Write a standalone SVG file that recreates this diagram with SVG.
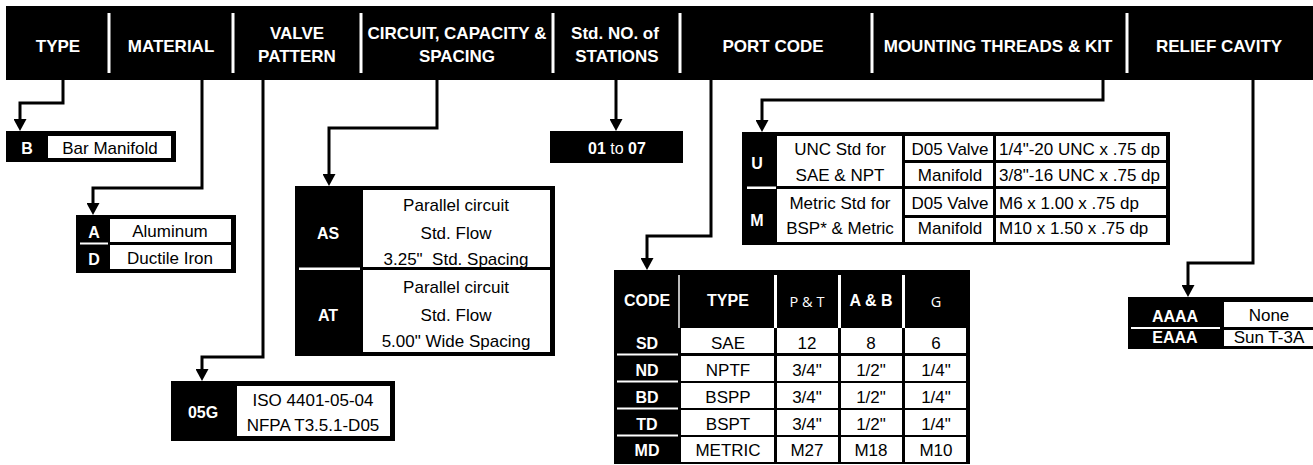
<svg xmlns="http://www.w3.org/2000/svg" width="1313" height="465" viewBox="0 0 1313 465">
<style>
.bk{fill:#000}
.wh{fill:#fff}
.hd{font-family:"Liberation Sans",Arial,sans-serif;font-weight:bold;font-size:17px;fill:#fff;text-anchor:middle}
.k{font-family:"Liberation Sans",Arial,sans-serif;font-weight:bold;font-size:16px;fill:#fff;text-anchor:middle}
.t{font-family:"Liberation Sans",Arial,sans-serif;font-size:17px;fill:#000;text-anchor:middle}
.tl{text-anchor:start}
.sm{font-family:"Open Sans","Liberation Sans",sans-serif;font-size:14.5px;fill:#fff;text-anchor:middle}
.conn{fill:none;stroke:#000;stroke-width:3}
</style>
<defs>
<marker id="arr" viewBox="0 0 12 13" refX="6" refY="6.5" markerWidth="12" markerHeight="13" markerUnits="userSpaceOnUse" orient="auto">
<path d="M0,0 L12,6.5 L0,13 z" fill="#000"/>
</marker>
</defs>
<rect width="1313" height="465" fill="#fff"/>

<g id="header">
<rect class="bk" x="6" y="6" width="1307" height="74"/>
<rect class="wh" x="107.5" y="13" width="3" height="60"/>
<rect class="wh" x="231.5" y="13" width="3" height="60"/>
<rect class="wh" x="359.5" y="13" width="3" height="60"/>
<rect class="wh" x="551.5" y="13" width="3" height="60"/>
<rect class="wh" x="678.5" y="13" width="3" height="60"/>
<rect class="wh" x="870.5" y="13" width="3" height="60"/>
<rect class="wh" x="1125.5" y="13" width="3" height="60"/>
<text class="hd" x="58" y="51.5">TYPE</text>
<text class="hd" x="171" y="51.5">MATERIAL</text>
<text class="hd" x="297" y="38.5">VALVE</text>
<text class="hd" x="297" y="62">PATTERN</text>
<text class="hd" x="457" y="38.5">CIRCUIT, CAPACITY &amp;</text>
<text class="hd" x="457" y="62">SPACING</text>
<text class="hd" x="615" y="38.5">Std. NO. of</text>
<text class="hd" x="617" y="62">STATIONS</text>
<text class="hd" x="773" y="51.5">PORT CODE</text>
<text class="hd" x="998" y="51.5">MOUNTING THREADS &amp; KIT</text>
<text class="hd" x="1219" y="51.5">RELIEF CAVITY</text>
</g>

<g id="connectors">
<path class="conn" d="M63,80 V103 H20 V125" marker-end="url(#arr)"/>
<path class="conn" d="M202,80 V188 H93 V209" marker-end="url(#arr)"/>
<path class="conn" d="M263,80 V357 H202 V375" marker-end="url(#arr)"/>
<path class="conn" d="M437,80 V128 H329 V180" marker-end="url(#arr)"/>
<path class="conn" d="M616,80 V125" marker-end="url(#arr)"/>
<path class="conn" d="M711,80 V236 H647 V264" marker-end="url(#arr)"/>
<path class="conn" d="M1103,80 V100 H762 V126" marker-end="url(#arr)"/>
<path class="conn" d="M1253,80 V263 H1188 V291" marker-end="url(#arr)"/>
</g>

<g id="type-table">
<rect class="bk" x="6" y="131" width="170" height="31"/>
<rect class="wh" x="48" y="136" width="123" height="22"/>
<text class="k" x="27" y="154">B</text>
<text class="t" x="110" y="154">Bar Manifold</text>
</g>

<g id="material-table">
<rect class="bk" x="76" y="215" width="160" height="58"/>
<rect class="wh" x="110" y="219" width="121" height="23"/>
<rect class="wh" x="110" y="245" width="121" height="24"/>
<rect class="wh" x="80" y="242.5" width="28" height="2"/>
<text class="k" x="94" y="238">A</text>
<text class="t" x="170" y="237">Aluminum</text>
<text class="k" x="94" y="265">D</text>
<text class="t" x="170" y="264">Ductile Iron</text>
</g>

<g id="valve-table">
<rect class="bk" x="171" y="381" width="224" height="60"/>
<rect class="wh" x="237" y="386" width="153" height="50"/>
<text class="k" x="203" y="418">05G</text>
<text class="t" x="313" y="406">ISO 4401-05-04</text>
<text class="t" x="313" y="431">NFPA T3.5.1-D05</text>
</g>

<g id="circuit-table">
<rect class="bk" x="295" y="186" width="260" height="170"/>
<rect class="wh" x="363" y="190" width="187" height="77"/>
<rect class="wh" x="363" y="270" width="187" height="82"/>
<rect class="wh" x="299" y="267.5" width="61" height="2.5"/>
<text class="k" x="328" y="239">AS</text>
<text class="k" x="328" y="321">AT</text>
<text class="t" x="456" y="211">Parallel circuit</text>
<text class="t" x="456" y="239">Std. Flow</text>
<text class="t" x="456" y="265" xml:space="preserve">3.25"  Std. Spacing</text>
<text class="t" x="456" y="293">Parallel circuit</text>
<text class="t" x="456" y="321">Std. Flow</text>
<text class="t" x="456" y="347">5.00" Wide Spacing</text>
</g>

<g id="stations-table">
<rect class="bk" x="550" y="131" width="133" height="32"/>
<text class="k" x="617" y="153.5" font-size="16"><tspan font-weight="bold">01</tspan><tspan font-weight="normal"> to </tspan><tspan font-weight="bold">07</tspan></text>
</g>

<g id="mounting-table">
<rect class="bk" x="742" y="132" width="428" height="113"/>
<rect class="wh" x="777" y="136" width="125" height="50"/>
<rect class="wh" x="777" y="189" width="125" height="53"/>
<rect class="wh" x="905" y="136" width="88" height="24"/>
<rect class="wh" x="905" y="163" width="88" height="23"/>
<rect class="wh" x="905" y="189" width="88" height="26"/>
<rect class="wh" x="905" y="218" width="88" height="24"/>
<rect class="wh" x="996" y="136" width="170" height="24"/>
<rect class="wh" x="996" y="163" width="170" height="23"/>
<rect class="wh" x="996" y="189" width="170" height="26"/>
<rect class="wh" x="996" y="218" width="170" height="24"/>
<rect class="wh" x="747" y="186.5" width="29" height="2.5"/>
<text class="k" x="757" y="169">U</text>
<text class="k" x="757" y="226">M</text>
<text class="t" x="840" y="155">UNC Std for</text>
<text class="t" x="840" y="181">SAE &amp; NPT</text>
<text class="t" x="840" y="208.5">Metric Std for</text>
<text class="t" x="840" y="234">BSP* &amp; Metric</text>
<text class="t" x="950" y="155">D05 Valve</text>
<text class="t" x="950" y="181">Manifold</text>
<text class="t" x="950" y="208.5">D05 Valve</text>
<text class="t" x="950" y="234">Manifold</text>
<text class="t tl" x="999" y="155">1/4"-20 UNC x .75 dp</text>
<text class="t tl" x="999" y="181">3/8"-16 UNC x .75 dp</text>
<text class="t tl" x="999" y="208.5">M6 x 1.00 x .75 dp</text>
<text class="t tl" x="999" y="234">M10 x 1.50 x .75 dp</text>
</g>

<g id="port-table">
<rect class="bk" x="614" y="270" width="356" height="194"/>
<rect x="678" y="275" width="2" height="53" fill="#bbb"/>
<rect class="wh" x="774" y="275" width="3" height="53"/>
<rect class="wh" x="838" y="275" width="3" height="53"/>
<rect class="wh" x="902" y="275" width="3" height="53"/>
<text class="k" x="647" y="306">CODE</text>
<text class="k" x="728" y="306">TYPE</text>
<text class="sm" x="807" y="307">P &amp; T</text>
<text class="k" x="871" y="306">A &amp; B</text>
<text class="sm" x="936" y="307">G</text>
<g>
<rect class="wh" x="681" y="328" width="93" height="25"/>
<rect class="wh" x="777" y="328" width="61" height="25"/>
<rect class="wh" x="841" y="328" width="61" height="25"/>
<rect class="wh" x="905" y="328" width="61" height="25"/>
<rect class="wh" x="681" y="356" width="93" height="25"/>
<rect class="wh" x="777" y="356" width="61" height="25"/>
<rect class="wh" x="841" y="356" width="61" height="25"/>
<rect class="wh" x="905" y="356" width="61" height="25"/>
<rect class="wh" x="681" y="383" width="93" height="25"/>
<rect class="wh" x="777" y="383" width="61" height="25"/>
<rect class="wh" x="841" y="383" width="61" height="25"/>
<rect class="wh" x="905" y="383" width="61" height="25"/>
<rect class="wh" x="681" y="410" width="93" height="25"/>
<rect class="wh" x="777" y="410" width="61" height="25"/>
<rect class="wh" x="841" y="410" width="61" height="25"/>
<rect class="wh" x="905" y="410" width="61" height="25"/>
<rect class="wh" x="681" y="437" width="93" height="25"/>
<rect class="wh" x="777" y="437" width="61" height="25"/>
<rect class="wh" x="841" y="437" width="61" height="25"/>
<rect class="wh" x="905" y="437" width="61" height="25"/>
<rect class="wh" x="617" y="353.5" width="61" height="2"/>
<rect class="wh" x="617" y="380.5" width="61" height="2"/>
<rect class="wh" x="617" y="407.5" width="61" height="2"/>
<rect class="wh" x="617" y="434.5" width="61" height="2"/>
</g>
<text class="k" x="647" y="349">SD</text>
<text class="k" x="647" y="376">ND</text>
<text class="k" x="647" y="403">BD</text>
<text class="k" x="647" y="430">TD</text>
<text class="k" x="647" y="456">MD</text>
<text class="t" x="728" y="349">SAE</text>
<text class="t" x="728" y="376">NPTF</text>
<text class="t" x="728" y="403">BSPP</text>
<text class="t" x="728" y="430">BSPT</text>
<text class="t" x="728" y="456">METRIC</text>
<text class="t" x="807" y="349">12</text>
<text class="t" x="807" y="376">3/4"</text>
<text class="t" x="807" y="403">3/4"</text>
<text class="t" x="807" y="430">3/4"</text>
<text class="t" x="807" y="456">M27</text>
<text class="t" x="871" y="349">8</text>
<text class="t" x="871" y="376">1/2"</text>
<text class="t" x="871" y="403">1/2"</text>
<text class="t" x="871" y="430">1/2"</text>
<text class="t" x="871" y="456">M18</text>
<text class="t" x="936" y="349">6</text>
<text class="t" x="936" y="376">1/4"</text>
<text class="t" x="936" y="403">1/4"</text>
<text class="t" x="936" y="430">1/4"</text>
<text class="t" x="936" y="456">M10</text>
</g>

<g id="relief-table">
<rect class="bk" x="1128" y="297" width="185" height="52"/>
<rect class="wh" x="1224" y="302" width="89" height="25"/>
<rect class="wh" x="1224" y="330" width="89" height="16"/>
<rect class="wh" x="1131" y="327" width="89" height="2"/>
<text class="k" x="1175" y="322">AAAA</text>
<text class="k" x="1175" y="343">EAAA</text>
<text class="t" x="1269" y="321">None</text>
<text class="t" x="1269" y="343">Sun T-3A</text>
</g>
</svg>
